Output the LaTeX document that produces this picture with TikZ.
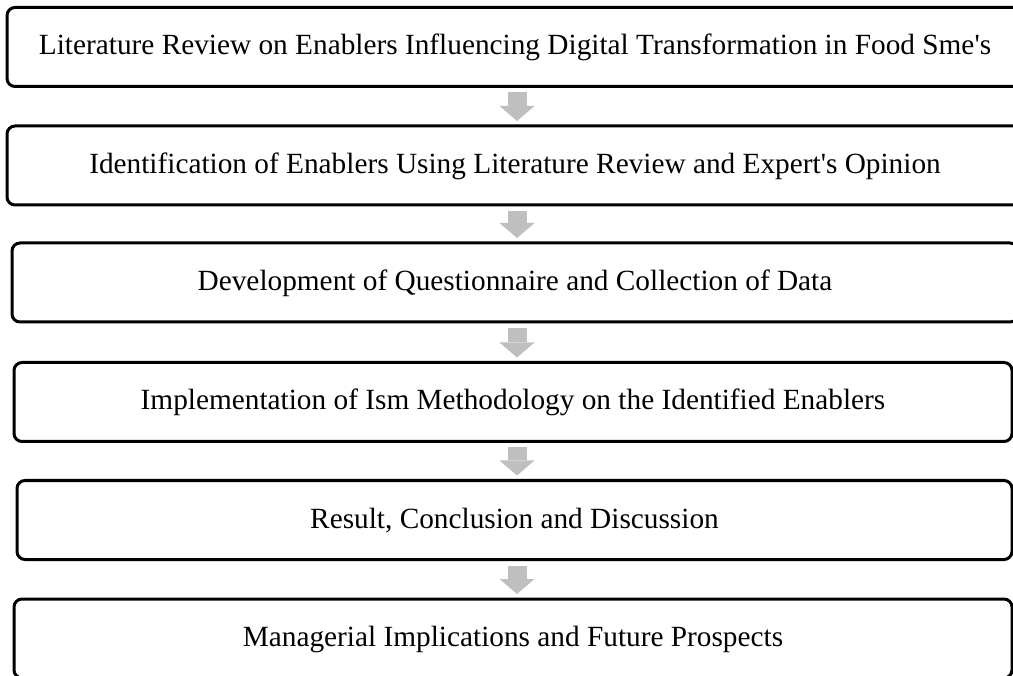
\documentclass[tikz,border=0pt]{standalone}
\usepackage{fontspec}
\setmainfont{Liberation Serif}
\usetikzlibrary{arrows.meta}
\definecolor{arrowGray}{RGB}{191,191,191}
\tikzstyle{stepBox}=[draw, line width=3pt, rounded corners=8pt, minimum height=79pt, inner sep=0pt, outer sep=0pt, text height=22pt, text depth=6pt, font=\fontsize{29.3}{34}\selectfont]
\tikzstyle{grayArrow}=[draw=arrowGray, line width=19pt, -{Triangle[width=35pt, length=15pt, line width=0pt]}]

\begin{document}
\begin{tikzpicture}[x = 1pt, y = -1pt]
\useasboundingbox (0,0) rectangle (1013,676);
\clip (0,0) rectangle (1013,676);
\node[stepBox, minimum width = 1016pt] (s1) at (515,47) {Literature Review on Enablers Influencing Digital Transformation in Food Sme\textquotesingle s};
\node[stepBox, minimum width = 1016pt] (s2) at (515,165.5) {Identification of Enablers Using Literature Review and Expert\textquotesingle s Opinion};
\node[stepBox, minimum width = 1006pt] (s3) at (515,282.5) {Development of Questionnaire and Collection of Data};
\node[stepBox, minimum width = 998pt] (s4) at (513,402) {Implementation of Ism Methodology on the Identified Enablers};
\node[stepBox, minimum width = 995pt] (s5) at (514.5,520) {Result, Conclusion and Discussion};
\node[stepBox, minimum width = 998pt] (s6) at (513,638.5) {Managerial Implications and Future Prospects};
\coordinate (ax) at (517,0);
\foreach \a/\b in {s1/s2, s2/s3, s3/s4, s4/s5, s5/s6}
  \draw[grayArrow] ([yshift = -6pt]\a.south -| ax) -- ([yshift = 5pt]\b.north -| ax);
\end{tikzpicture}
\end{document}
